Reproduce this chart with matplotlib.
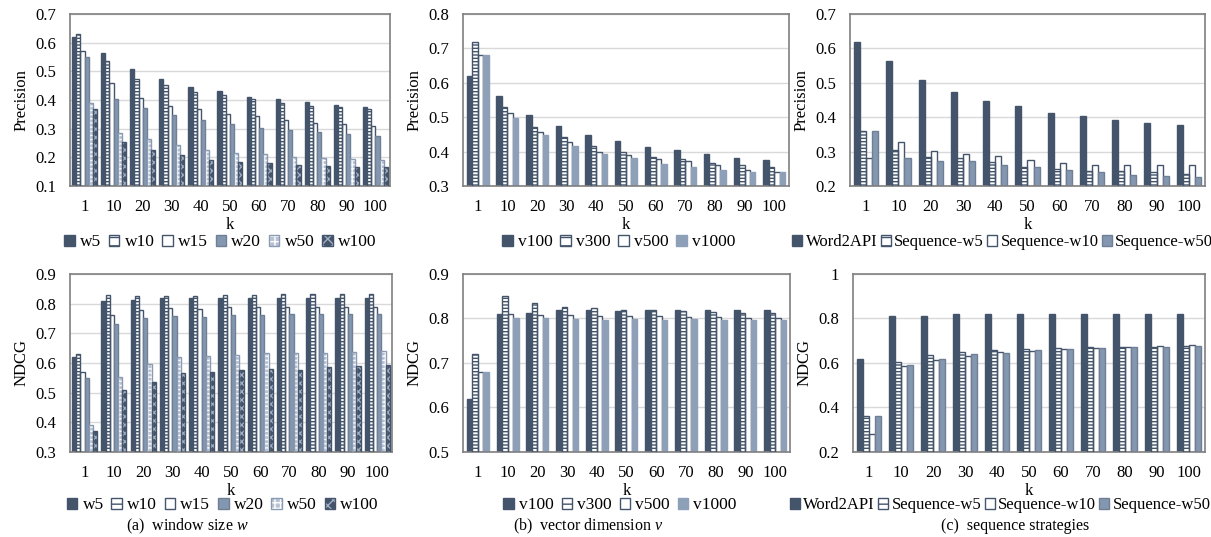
import matplotlib
matplotlib.use("Agg")
import matplotlib.pyplot as plt
import numpy as np

plt.rcParams['font.family'] = ['Liberation Serif', 'DejaVu Serif']
plt.rcParams['mathtext.fontset'] = 'custom'
plt.rcParams['mathtext.rm'] = 'Liberation Serif'
plt.rcParams['mathtext.it'] = 'Liberation Serif:italic'
plt.rcParams['hatch.linewidth'] = 1.0

k_labels = ['1', '10', '20', '30', '40', '50', '60', '70', '80', '90', '100']

# (a) window size
w_names = ['w5', 'w10', 'w15', 'w20', 'w50', 'w100']
prec_w5 = [0.62, 0.563, 0.507, 0.474, 0.447, 0.432, 0.412, 0.404, 0.393, 0.382, 0.376]
prec_w10 = [0.63, 0.535, 0.472, 0.451, 0.428, 0.417, 0.402, 0.388, 0.380, 0.374, 0.370]
prec_w15 = [0.57, 0.459, 0.406, 0.378, 0.367, 0.352, 0.343, 0.331, 0.321, 0.315, 0.309]
prec_w20 = [0.55, 0.404, 0.372, 0.348, 0.332, 0.316, 0.304, 0.294, 0.289, 0.283, 0.276]
prec_w50 = [0.39, 0.286, 0.264, 0.242, 0.224, 0.216, 0.210, 0.202, 0.198, 0.195, 0.192]
prec_w100 = [0.37, 0.253, 0.224, 0.207, 0.192, 0.183, 0.179, 0.175, 0.171, 0.166, 0.165]

ndcg_w5 = [0.62, 0.810, 0.813, 0.818, 0.818, 0.818, 0.818, 0.818, 0.818, 0.818, 0.818]
ndcg_w10 = [0.63, 0.828, 0.825, 0.827, 0.827, 0.830, 0.830, 0.832, 0.832, 0.832, 0.832]
ndcg_w15 = [0.57, 0.763, 0.778, 0.784, 0.782, 0.789, 0.789, 0.789, 0.789, 0.790, 0.790]
ndcg_w20 = [0.55, 0.730, 0.752, 0.760, 0.755, 0.762, 0.762, 0.764, 0.764, 0.764, 0.764]
ndcg_w50 = [0.39, 0.553, 0.598, 0.620, 0.625, 0.627, 0.632, 0.633, 0.633, 0.638, 0.641]
ndcg_w100 = [0.37, 0.510, 0.537, 0.565, 0.568, 0.575, 0.580, 0.575, 0.585, 0.590, 0.592]

# (b) vector dimension
v_names = ['v100', 'v300', 'v500', 'v1000']
prec_v100 = [0.62, 0.563, 0.507, 0.474, 0.447, 0.432, 0.412, 0.404, 0.393, 0.382, 0.376]
prec_v300 = [0.72, 0.530, 0.472, 0.442, 0.415, 0.398, 0.385, 0.378, 0.368, 0.360, 0.354]
prec_v500 = [0.68, 0.512, 0.458, 0.427, 0.398, 0.389, 0.378, 0.372, 0.360, 0.348, 0.342]
prec_v1000 = [0.68, 0.498, 0.449, 0.415, 0.392, 0.381, 0.365, 0.356, 0.347, 0.342, 0.340]

ndcg_v100 = [0.62, 0.810, 0.813, 0.818, 0.818, 0.817, 0.818, 0.818, 0.818, 0.818, 0.818]
ndcg_v300 = [0.72, 0.850, 0.835, 0.825, 0.823, 0.820, 0.818, 0.816, 0.815, 0.813, 0.813]
ndcg_v500 = [0.68, 0.810, 0.808, 0.808, 0.806, 0.806, 0.806, 0.803, 0.803, 0.802, 0.800]
ndcg_v1000 = [0.68, 0.800, 0.800, 0.799, 0.796, 0.798, 0.797, 0.798, 0.797, 0.797, 0.797]

# (c) sequence strategies
s_names = ['Word2API', 'Sequence-w5', 'Sequence-w10', 'Sequence-w50']
prec_word2api = [0.62, 0.563, 0.507, 0.474, 0.447, 0.432, 0.412, 0.404, 0.393, 0.382, 0.376]
prec_seq_w5 = [0.36, 0.305, 0.285, 0.280, 0.270, 0.255, 0.250, 0.245, 0.243, 0.240, 0.235]
prec_seq_w10 = [0.28, 0.328, 0.302, 0.292, 0.288, 0.276, 0.267, 0.260, 0.260, 0.260, 0.260]
prec_seq_w50 = [0.36, 0.282, 0.274, 0.272, 0.262, 0.255, 0.247, 0.240, 0.233, 0.228, 0.225]

ndcg_word2api = [0.62, 0.810, 0.813, 0.818, 0.818, 0.818, 0.818, 0.818, 0.818, 0.818, 0.818]
ndcg_seq_w5 = [0.36, 0.603, 0.638, 0.650, 0.657, 0.663, 0.667, 0.670, 0.670, 0.673, 0.677]
ndcg_seq_w10 = [0.28, 0.585, 0.615, 0.633, 0.650, 0.655, 0.662, 0.667, 0.672, 0.677, 0.682]
ndcg_seq_w50 = [0.36, 0.590, 0.617, 0.640, 0.645, 0.658, 0.664, 0.667, 0.672, 0.674, 0.676]

NAVY = '#44546A'
MID = '#8497B0'
LIGHT = '#8E9FB8'

ST_SOLID_DARK = dict(fc=NAVY, hc=None, hatch=None, ec=NAVY)
ST_HSTRIPE = dict(fc='white', hc=NAVY, hatch='-----', ec=NAVY, lh='--')
ST_WHITE = dict(fc='white', hc=None, hatch=None, ec=NAVY)
ST_MID = dict(fc=MID, hc=None, hatch=None, ec='#6F7F96')
ST_CHECK = dict(fc='#B7C2D3', hc='white', hatch='++++', ec='#8A9AB2', lh='+++')
ST_XDARK = dict(fc=NAVY, hc='#A3B0C4', hatch='xxxx', ec=NAVY, lh='xxx')
ST_LIGHT = dict(fc=LIGHT, hc=None, hatch=None, ec=LIGHT)

W_STYLES = [ST_SOLID_DARK, ST_HSTRIPE, ST_WHITE, ST_MID, ST_CHECK, ST_XDARK]
V_STYLES = [ST_SOLID_DARK, ST_HSTRIPE, ST_WHITE, ST_LIGHT]
S_STYLES = [ST_SOLID_DARK, ST_HSTRIPE, ST_WHITE, ST_MID]


def draw(ax, series, names, styles, ylim, yticks, ylabel, group_w):
    n = len(series)
    x = np.arange(len(k_labels))
    bw = group_w / n
    handles = []
    for i, (vals, st) in enumerate(zip(series, styles)):
        pos = x - group_w / 2 + bw * (i + 0.5)
        bottom = ylim[0]
        h = np.array(vals) - bottom
        if st['hatch']:
            ax.bar(pos, h, bw, bottom=bottom, color=st['fc'], edgecolor=st['hc'],
                   hatch=st['hatch'], linewidth=0, zorder=2)
            ax.bar(pos, h, bw, bottom=bottom, fill=False, edgecolor=st['ec'],
                   linewidth=1.0, zorder=3)
            p1 = plt.Rectangle((0, 0), 1, 1, facecolor=st['fc'], edgecolor=st['hc'],
                               hatch=st['lh'], linewidth=0)
            p2 = plt.Rectangle((0, 0), 1, 1, fill=False, edgecolor=st['ec'], linewidth=1.0)
            handles.append((p1, p2))
        else:
            ax.bar(pos, h, bw, bottom=bottom, color=st['fc'], edgecolor=st['ec'],
                   linewidth=1.0, zorder=2)
            handles.append(plt.Rectangle((0, 0), 1, 1, facecolor=st['fc'],
                                         edgecolor=st['ec'], linewidth=1.0))
    ax.set_xlim(-0.5, len(k_labels) - 0.5)
    ax.set_ylim(*ylim)
    ax.set_yticks(yticks)
    ax.set_yticklabels([('%g' % t) for t in yticks])
    ax.set_xticks(x)
    ax.set_xticklabels(k_labels)
    ax.tick_params(axis='x', length=0, labelsize=12, pad=9.5)
    ax.tick_params(axis='y', length=0, labelsize=12, pad=10)
    ax.yaxis.grid(True, color='#D9D9D9', linewidth=1.0, zorder=0)
    ax.set_axisbelow(True)
    for s in ax.spines.values():
        s.set_color('#7F7F7F')
        s.set_linewidth(1.2)
    ax.set_ylabel(ylabel, fontsize=12, labelpad=4)
    ax.set_xlabel('k', fontsize=12, labelpad=1)
    return handles


fig = plt.figure(figsize=(12.11, 5.37), dpi=100)

top_b, top_h = 0.6536, 0.3203
bot_b, bot_h = 0.1583, 0.3315

ax_a1 = fig.add_axes([0.0578, top_b, 0.2642, top_h])
ax_b1 = fig.add_axes([0.3823, top_b, 0.2692, top_h])
ax_c1 = fig.add_axes([0.7019, top_b, 0.2931, top_h])
ax_a2 = fig.add_axes([0.0578, bot_b, 0.2658, bot_h])
ax_b2 = fig.add_axes([0.3823, bot_b, 0.2700, bot_h])
ax_c2 = fig.add_axes([0.7044, bot_b, 0.2906, bot_h])

leg_kw = dict(loc='center', ncol=6, frameon=False, fontsize=12.5, handlelength=0.6,
              handleheight=0.6, handletextpad=0.3, columnspacing=0.45, borderpad=0)
leg_c = dict(leg_kw, ncol=4, columnspacing=0.2, fontsize=12, handletextpad=0.2)

h = draw(ax_a1, [prec_w5, prec_w10, prec_w15, prec_w20, prec_w50, prec_w100], w_names, W_STYLES,
         (0.1, 0.7), [0.1, 0.2, 0.3, 0.4, 0.5, 0.6, 0.7], 'Precision', 0.86)
fig.legend(h, w_names, bbox_to_anchor=(0.182, 0.549), **leg_kw)

h = draw(ax_b1, [prec_v100, prec_v300, prec_v500, prec_v1000], v_names, V_STYLES,
         (0.3, 0.8), [0.3, 0.4, 0.5, 0.6, 0.7, 0.8], 'Precision', 0.74)
fig.legend(h, v_names, bbox_to_anchor=(0.511, 0.549), **dict(leg_kw, ncol=4))

h = draw(ax_c1, [prec_word2api, prec_seq_w5, prec_seq_w10, prec_seq_w50], s_names, S_STYLES,
         (0.2, 0.7), [0.2, 0.3, 0.4, 0.5, 0.6, 0.7], 'Precision', 0.75)
fig.legend(h, s_names, bbox_to_anchor=(0.828, 0.549), **leg_c)

h = draw(ax_a2, [ndcg_w5, ndcg_w10, ndcg_w15, ndcg_w20, ndcg_w50, ndcg_w100], w_names, W_STYLES,
         (0.3, 0.9), [0.3, 0.4, 0.5, 0.6, 0.7, 0.8, 0.9], 'NDCG', 0.86)
fig.legend(h, w_names, bbox_to_anchor=(0.184, 0.059), **leg_kw)

h = draw(ax_b2, [ndcg_v100, ndcg_v300, ndcg_v500, ndcg_v1000], v_names, V_STYLES,
         (0.5, 0.9), [0.5, 0.6, 0.7, 0.8, 0.9], 'NDCG', 0.74)
fig.legend(h, v_names, bbox_to_anchor=(0.512, 0.059), **dict(leg_kw, ncol=4))

h = draw(ax_c2, [ndcg_word2api, ndcg_seq_w5, ndcg_seq_w10, ndcg_seq_w50], s_names, S_STYLES,
         (0.2, 1.0), [0.2, 0.4, 0.6, 0.8, 1.0], 'NDCG', 0.75)
fig.legend(h, s_names, bbox_to_anchor=(0.826, 0.059), **leg_c)

fig.text(0.155, 0.020, '(a)  window size $w$', ha='center', va='center', fontsize=11.5)
fig.text(0.486, 0.020, '(b)  vector dimension $v$', ha='center', va='center', fontsize=11.5)
fig.text(0.838, 0.020, '(c)  sequence strategies', ha='center', va='center', fontsize=11.5)

fig.savefig('out.png', dpi=100)
